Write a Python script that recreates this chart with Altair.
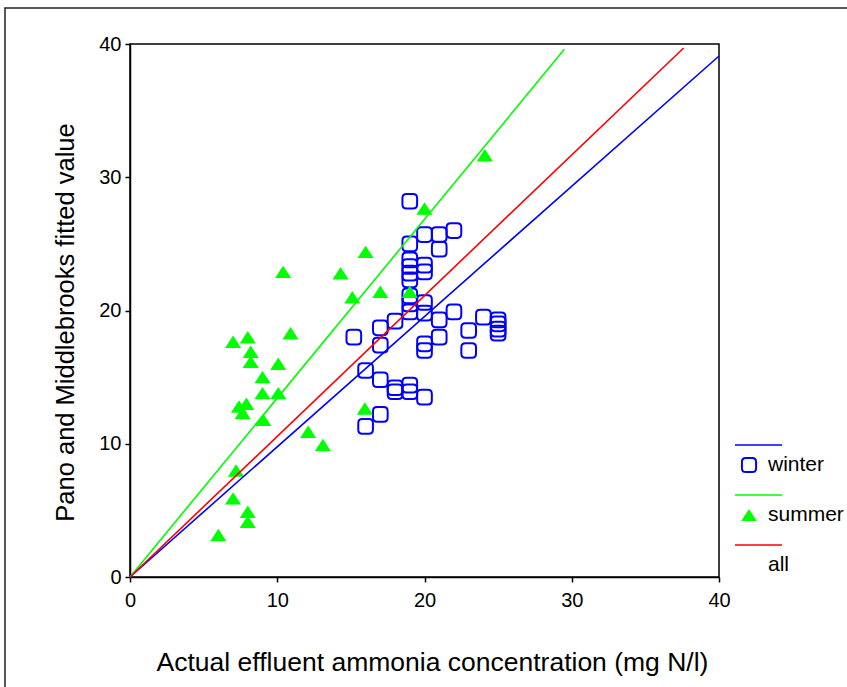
import altair as alt
import pandas as pd

# ---- data ----
winter_x = [15.2, 16, 16, 17, 17, 17, 17, 18, 18, 18, 19, 19, 19, 19, 19, 19, 19, 19, 19, 19, 19,
            20, 20, 20, 20, 20, 20, 20, 20, 21, 21, 21, 21, 22, 22, 23, 23, 24, 25, 25, 25, 25]
winter_y = [18.0, 15.5, 11.3, 18.7, 17.4, 14.8, 12.2, 19.2, 14.2, 13.9, 28.2, 25.0, 23.8, 23.3, 22.8,
            22.3, 21.1, 20.5, 19.9, 14.4, 13.9, 25.7, 23.4, 22.9, 20.6, 19.8, 17.5, 17.0, 13.5,
            25.7, 24.6, 19.3, 18.0, 26.0, 19.9, 18.5, 17.0, 19.5, 19.3, 19.0, 18.6, 18.3]

summer_x = [6.0, 7.0, 7.2, 8.0, 8.0, 7.0, 7.4, 7.9, 7.65, 8.0, 8.2, 8.2, 9.0, 9.0, 9.05, 10.07,
            10.07, 10.4, 10.9, 12.1, 13.1, 14.3, 15.1, 16.0, 15.95, 17.0, 19.0, 20.0, 24.1]
summer_y = [3.15, 5.9, 8.0, 4.9, 4.15, 17.65, 12.8, 13.0, 12.3, 18.0, 16.9, 16.15, 15.0, 13.8,
            11.8, 16.0, 13.8, 22.9, 18.3, 10.9, 9.9, 22.8, 21.0, 24.4, 12.65, 21.4, 21.4, 27.65, 31.65]

fit_names = ["winter fit", "summer fit", "all fit"]
fit_x_start = [0, 0, 0]
fit_y_start = [0, 0, 0]
fit_x_end = [40.0, 29.5, 37.6]
fit_y_end = [39.1, 39.6, 39.7]

seasons = ["winter", "summer", "all"]
x_ticks = [0, 10, 20, 30, 40]
y_ticks = [0, 10, 20, 30, 40]

# ---- tables ----
points = pd.DataFrame({
    "x": winter_x + summer_x,
    "y": winter_y + summer_y,
    "season": ["winter"] * len(winter_x) + ["summer"] * len(summer_x),
})

rows = []
for n, x0, y0, x1, y1 in zip(fit_names, fit_x_start, fit_y_start, fit_x_end, fit_y_end):
    rows.append({"fit": n, "x": x0, "y": y0})
    rows.append({"fit": n, "x": x1, "y": y1})
fits = pd.DataFrame(rows)

FONT = "Liberation Sans"
BLUE = "#0000ff"
GREEN = "#00ff00"
RED = "#ff0000"

SQUARE = ("M-0.45,-1 H0.45 Q1,-1 1,-0.45 V0.45 Q1,1 0.45,1 H-0.45 Q-1,1 -1,0.45 "
          "V-0.45 Q-1,-1 -0.45,-1 Z")
TRIANGLE = "M0,-0.85 L1.1,0.85 L-1.1,0.85 Z"

x_enc = alt.X("x:Q", scale=alt.Scale(domain=[0, 40], nice=False, zero=False),
              axis=alt.Axis(values=x_ticks, grid=False, tickSize=5, labelFontSize=20,
                            labelPadding=8, labelFlush=False, labelOverlap=False,
                            title="Actual effluent ammonia concentration (mg N/l)",
                            titleFontSize=26.5, titleFontWeight="normal",
                            titleX=302, titleY=85, titleBaseline="middle", titleAlign="center"))
y_enc = alt.Y("y:Q", scale=alt.Scale(domain=[0, 40], nice=False, zero=False),
              axis=alt.Axis(values=y_ticks, grid=False, tickSize=5, labelFontSize=20,
                            labelPadding=4, labelFlush=False, labelOverlap=False,
                            title="Pano and Middlebrooks fitted value",
                            titleFontSize=25.5, titleFontWeight="normal", titleAngle=-90,
                            titleX=-65, titleY=278, titleBaseline="middle", titleAlign="center"))

legend_pts = alt.Legend(title=None, orient="none", direction="vertical", columns=1,
                        legendX=608.5, legendY=409, padding=0, clipHeight=24, rowPadding=26,
                        symbolSize=200, symbolStrokeWidth=2, labelOffset=8.5,
                        labelFontSize=21, labelFont=FONT, labelColor="black",
                        labelBaseline="middle")

frame = alt.Chart(pd.DataFrame({"f": [0]})).mark_rect(
    fill="white", fillOpacity=0, stroke="#222222", strokeWidth=1.5
).encode(x=alt.value(-125), x2=alt.value(1000), y=alt.value(-36), y2=alt.value(1000))

pts = alt.Chart(points).mark_point(filled=True, opacity=1, size=215, strokeWidth=2).encode(
    x=x_enc, y=y_enc,
    shape=alt.Shape("season:N", scale=alt.Scale(domain=seasons, range=[SQUARE, TRIANGLE, "circle"]),
                    legend=legend_pts),
    fill=alt.Fill("season:N", scale=alt.Scale(domain=seasons, range=["transparent", GREEN, "transparent"]),
                  legend=legend_pts),
    stroke=alt.Stroke("season:N", scale=alt.Scale(domain=seasons, range=[BLUE, "transparent", "transparent"]),
                      legend=legend_pts),
)

lines = alt.Chart(fits).mark_line(strokeWidth=1.6).encode(
    x=alt.X("x:Q"), y=alt.Y("y:Q"),
    color=alt.Color("fit:N", scale=alt.Scale(domain=fit_names, range=[BLUE, GREEN, RED]),
                    legend=alt.Legend(title=None, orient="none", direction="vertical", columns=1,
                                      legendX=604, legendY=389, padding=0, clipHeight=24,
                                      rowPadding=26, symbolType="stroke", symbolSize=2209,
                                      symbolStrokeWidth=1.5, labelExpr="''", labelFontSize=10)),
    detail="fit:N",
)

chart = alt.layer(frame, pts, lines).properties(
    width=589, height=533,
    autosize=alt.AutoSizeParams(type="none"),
    padding={"left": 130, "top": 44, "right": 128, "bottom": 110},
    background="white",
).configure(font=FONT).configure_view(
    stroke="black", strokeWidth=1.5
).configure_axis(
    domainColor="black", tickColor="black", labelColor="black", titleColor="black",
    labelFont=FONT, titleFont=FONT, domainWidth=1.5, tickWidth=1.5
)

chart.save("out.html", embed_options={"renderer": "svg", "actions": False})
